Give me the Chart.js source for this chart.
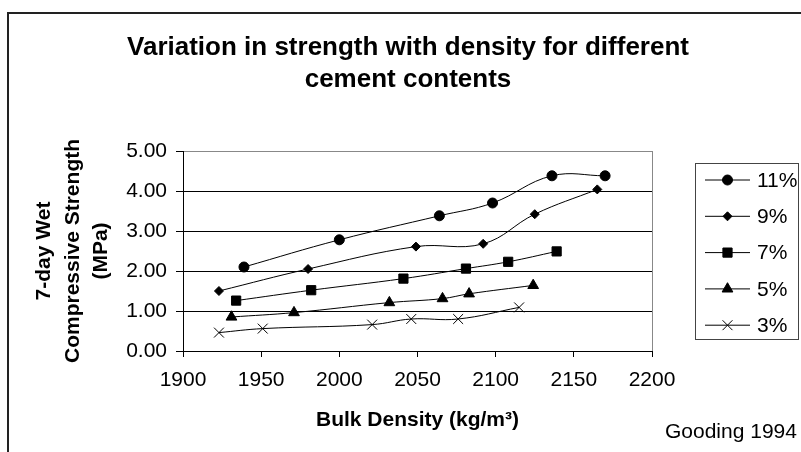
<!DOCTYPE html>
<html>
<head>
<meta charset="utf-8">
<script src="https://cdn.jsdelivr.net/npm/chart.js@4/dist/chart.umd.min.js"></script>
<style>
  html, body { margin: 0; padding: 0; background: #fff; overflow: hidden; }
</style>
</head>
<body>
<canvas id="strengthChart" width="801" height="452"></canvas>
<script>
  // Dados (densidade kg/m3, resistência MPa)
  const density11 = [1939, 2000, 2064, 2098, 2136, 2170];
  const strength11 = [2.10, 2.78, 3.38, 3.70, 4.38, 4.38];
  const density9 = [1923, 1980, 2049, 2092, 2125, 2165];
  const strength9 = [1.50, 2.05, 2.61, 2.68, 3.42, 4.04];
  const density7 = [1934, 1982, 2041, 2081, 2108, 2139];
  const strength7 = [1.26, 1.52, 1.81, 2.06, 2.23, 2.49];
  const density5 = [1931, 1971, 2032, 2066, 2083, 2124];
  const strength5 = [0.85, 0.96, 1.21, 1.31, 1.43, 1.64];
  const density3 = [1923, 1951, 2021, 2046, 2076, 2115];
  const strength3 = [0.46, 0.56, 0.66, 0.80, 0.80, 1.09];

  const seriesLabels = ['11%', '9%', '7%', '5%', '3%'];
  const titleLines = ['Variation in strength with density for different', 'cement contents'];
  const yTitleLines = ['7-day Wet', 'Compressive Strength', '(MPa)'];
  const xTitle = 'Bulk Density (kg/m\u00b3)';
  const sourceNote = 'Gooding 1994';

  const FONT = '"Liberation Sans", Arial, sans-serif';

  const toPoints = (xs, ys) => xs.map((x, i) => ({ x: x, y: ys[i] }));

  const styles = [
    { pointStyle: 'circle', radius: 5 },
    { pointStyle: 'rectRot', radius: 4.5 },
    { pointStyle: 'rect', radius: 6.5 },
    { pointStyle: 'triangle', radius: 6.2 },
    { pointStyle: 'crossRot', radius: 7 }
  ];
  const allX = [density11, density9, density7, density5, density3];
  const allY = [strength11, strength9, strength7, strength5, strength3];

  const datasets = seriesLabels.map((label, i) => ({
    label: label,
    data: toPoints(allX[i], allY[i]),
    borderColor: '#000',
    backgroundColor: '#000',
    borderWidth: 1,
    pointStyle: styles[i].pointStyle,
    pointRadius: styles[i].radius,
    pointBorderWidth: 1,
    tension: 0.4,
    fill: false
  }));

  // moldura, título, legenda e nota de fonte
  const extras = {
    id: 'extras',
    afterDraw(chart) {
      const ctx = chart.ctx;
      ctx.save();
      ctx.strokeStyle = '#222';
      ctx.lineWidth = 2;
      ctx.beginPath();
      ctx.moveTo(8, 452); ctx.lineTo(8, 13); ctx.lineTo(801, 13);
      ctx.stroke();

      ctx.fillStyle = '#000';
      ctx.textAlign = 'center';
      ctx.textBaseline = 'alphabetic';
      ctx.font = 'bold 26px ' + FONT;
      ctx.fillText(titleLines[0], 408, 55);
      ctx.fillText(titleLines[1], 408, 87);

      ctx.font = '21px ' + FONT;
      ctx.textAlign = 'left';
      ctx.fillText(sourceNote, 665, 438);

      // legenda
      ctx.strokeStyle = '#444';
      ctx.lineWidth = 1;
      ctx.strokeRect(695.5, 163.5, 103, 176);
      ctx.textBaseline = 'middle';
      chart.data.datasets.forEach((ds, i) => {
        const y = 180 + i * 36.3;
        ctx.strokeStyle = '#000';
        ctx.fillStyle = '#000';
        ctx.lineWidth = 1;
        ctx.beginPath(); ctx.moveTo(705, y); ctx.lineTo(750, y); ctx.stroke();
        Chart.helpers.drawPoint(ctx, { pointStyle: ds.pointStyle, radius: ds.pointRadius, rotation: 0, borderWidth: 1 }, 727.5, y);
        ctx.fillStyle = '#000';
        ctx.fillText(ds.label, 757, y + 1);
      });
      ctx.restore();
    }
  };

  const ctx = document.getElementById('strengthChart').getContext('2d');
  new Chart(ctx, {
    type: 'line',
    data: { datasets: datasets },
    options: {
      responsive: false,
      animation: false,
      devicePixelRatio: 1,
      layout: { padding: { left: 20, right: 149, top: 151, bottom: 0 } },
      plugins: { legend: { display: false }, tooltip: { enabled: false } },
      scales: {
        x: {
          type: 'linear',
          min: 1900, max: 2200,
          afterFit: (s) => { s.height = 101; },
          ticks: { stepSize: 50, color: '#000', padding: 11, font: { family: FONT, size: 21 }, callback: (v) => String(v) },
          grid: {
            color: (c) => (c.tick && c.tick.value === 2200 ? '#888' : 'rgba(0,0,0,0)'),
            tickColor: '#000',
            tickLength: 6
          },
          border: { color: '#000', width: 1 },
          title: { display: true, text: xTitle, color: '#000', padding: { top: 0, bottom: 19 }, font: { family: FONT, size: 21, weight: 'bold' } }
        },
        y: {
          min: 0, max: 5,
          afterFit: (s) => { s.width = 163; },
          ticks: { stepSize: 1, color: '#000', padding: 9, font: { family: FONT, size: 21 }, callback: (v) => v.toFixed(2) },
          grid: {
            color: (c) => (c.tick && c.tick.value === 5 ? '#888' : '#000'),
            tickColor: '#000',
            tickLength: 7
          },
          border: { color: '#000', width: 1 },
          title: { display: true, text: yTitleLines, color: '#000', padding: { top: 10, bottom: 0 }, font: { family: FONT, size: 21, weight: 'bold', lineHeight: 1.36 } }
        }
      }
    },
    plugins: [extras]
  });
</script>
</body>
</html>
